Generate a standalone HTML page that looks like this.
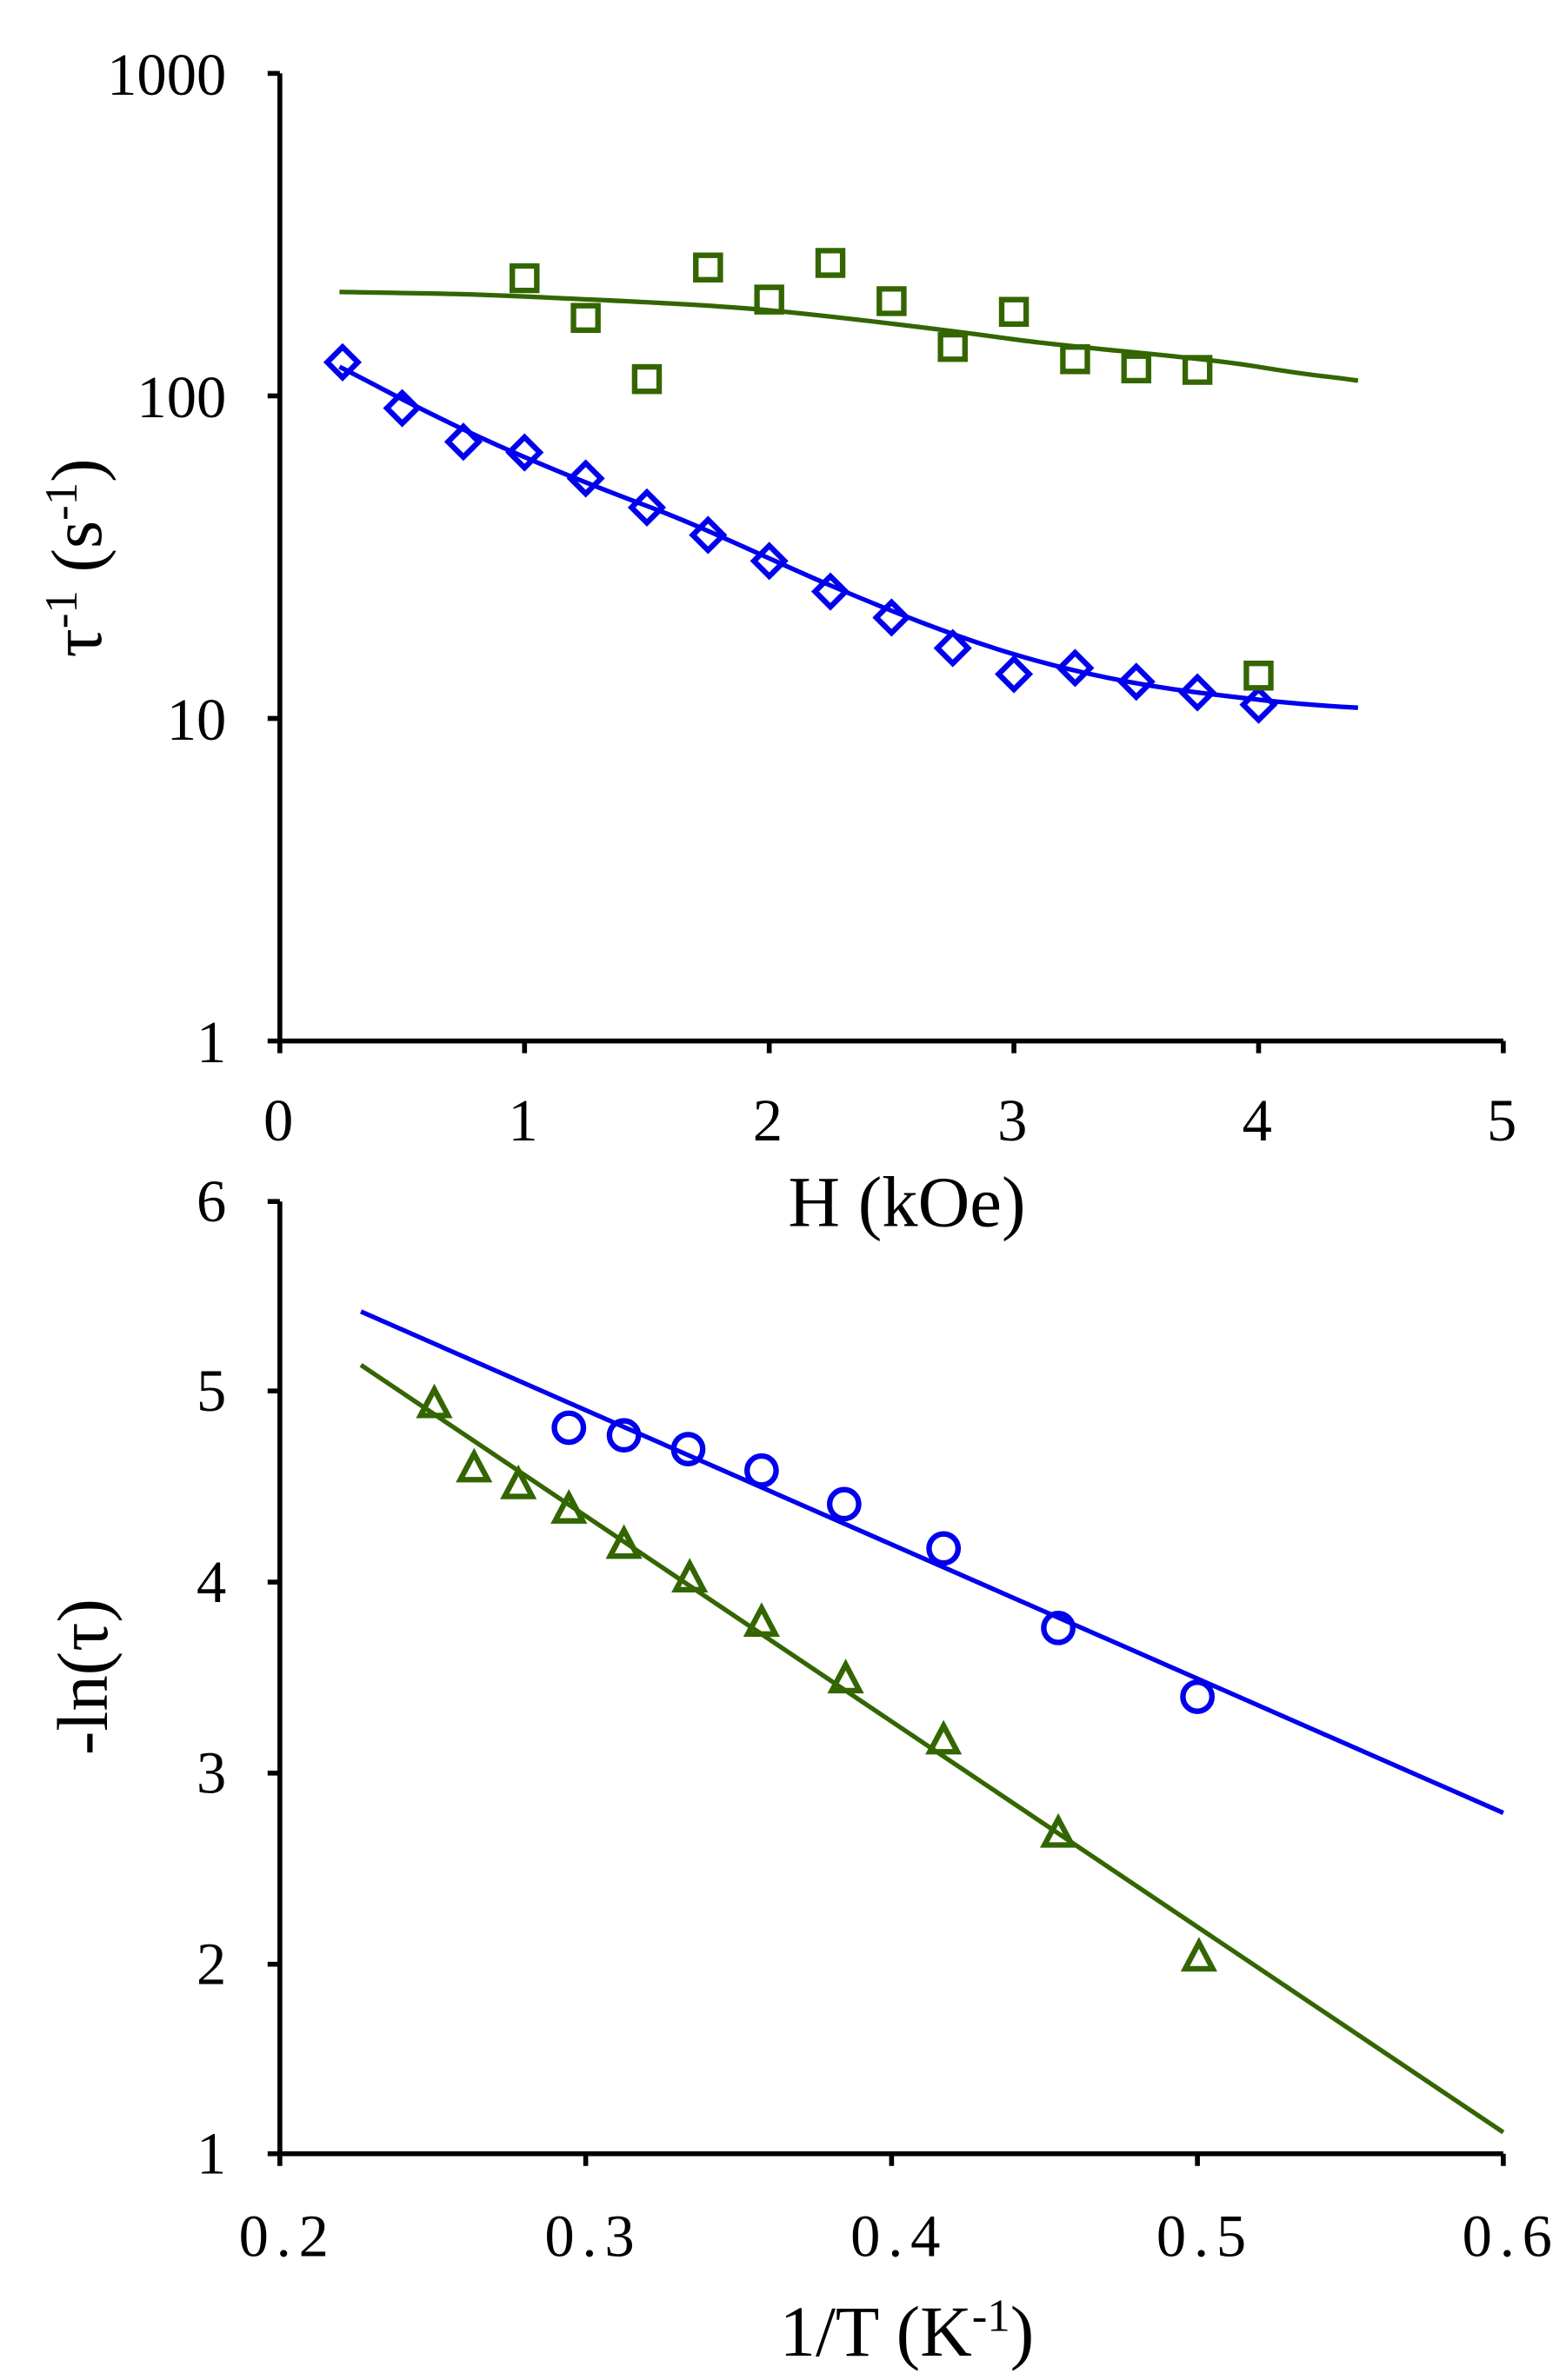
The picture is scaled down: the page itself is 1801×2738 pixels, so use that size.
<!DOCTYPE html>
<html><head><style>html,body{margin:0;padding:0;background:#fff}svg{display:block}</style></head><body>
<svg width="1801" height="2738" viewBox="0 0 1024 1557" preserveAspectRatio="none" xmlns="http://www.w3.org/2000/svg" font-family="Liberation Serif, serif" fill="#000">
<g stroke="#000" stroke-width="3.2" fill="none">
<path d="M183,48V681H983"/>
<path d="M175,48H183M175,259H183M175,470H183M175,681H183"/>
<path d="M183,681V689M343,681V689M503,681V689M663,681V689M823,681V689M983,681V689"/>
<path d="M183,786V1409H983"/>
<path d="M175,786H183M175,910H183M175,1035H183M175,1160H183M175,1285H183M175,1409H183"/>
<path d="M183,1409V1417M383,1409V1417M583,1409V1417M783,1409V1417M983,1409V1417"/>
</g>
<g font-size="39" text-anchor="end">
<text x="148" y="62">1000</text><text x="148" y="273">100</text><text x="148" y="484">10</text><text x="148" y="695">1</text>
<text x="148" y="799">6</text><text x="148" y="923">5</text><text x="148" y="1048">4</text><text x="148" y="1173">3</text><text x="148" y="1298">2</text><text x="148" y="1422">1</text>
</g>
<g font-size="39" text-anchor="middle">
<text x="182" y="746">0</text><text x="342" y="746">1</text><text x="502" y="746">2</text><text x="662" y="746">3</text><text x="822" y="746">4</text><text x="982" y="746">5</text>
<g letter-spacing="5"><text x="188" y="1476">0.2</text><text x="388" y="1476">0.3</text><text x="588" y="1476">0.4</text><text x="788" y="1476">0.5</text><text x="988" y="1476">0.6</text></g>
<text x="593" y="802" font-size="47">H (kOe)</text>
<text x="593" y="1541" font-size="47">1/T (K<tspan font-size="30" dy="-16">-1</tspan><tspan dy="16">)</tspan></text>
</g>
<text transform="translate(66,365) rotate(-90)" text-anchor="middle" font-size="47">τ<tspan font-size="30" dy="-16">-1</tspan><tspan dy="16"> (s</tspan><tspan font-size="30" dy="-16">-1</tspan><tspan dy="16">)</tspan></text>
<text transform="translate(70,1097) rotate(-90)" text-anchor="middle" font-size="47">-ln(τ)</text>
<g fill="none" stroke-width="3">
<path stroke="#0000ee" d="M222,240 C250,254 263,262 303,281 S383,316 423,331 S503,366 543,383 S623,416 663,428 S743,448 783,453 S850,461 888,463"/>
<path stroke="#336600" d="M222,191 C280,192 300,192 343,194 S460,199 503,203 S620,216 663,222 S780,233 823,240 S860,245 888,249"/>
<path stroke="#0000ee" d="M236,858L983,1186"/>
<path stroke="#336600" d="M236,893L983,1395"/>
<g stroke="#0000ee" stroke-width="3.6">
<path d="M224,227l10,10l-10,10l-10,-10z M263,257l10,10l-10,10l-10,-10z M303,279l10,10l-10,10l-10,-10z M343,286l10,10l-10,10l-10,-10z M383,303l10,10l-10,10l-10,-10z M423,322l10,10l-10,10l-10,-10z M463,340l10,10l-10,10l-10,-10z M503,357l10,10l-10,10l-10,-10z M543,377l10,10l-10,10l-10,-10z M583,394l10,10l-10,10l-10,-10z M623,414l10,10l-10,10l-10,-10z M663,431l10,10l-10,10l-10,-10z M703,427l10,10l-10,10l-10,-10z M743,436l10,10l-10,10l-10,-10z M783,443l10,10l-10,10l-10,-10z M823,451l10,10l-10,10l-10,-10z"/>
<circle cx="372" cy="934" r="9.5"/><circle cx="408" cy="939" r="9.5"/><circle cx="450" cy="948" r="9.5"/><circle cx="498" cy="962" r="9.5"/><circle cx="552" cy="984" r="9.5"/><circle cx="617" cy="1013" r="9.5"/><circle cx="692" cy="1065" r="9.5"/><circle cx="783" cy="1110" r="9.5"/>
</g>
<g stroke="#336600" stroke-width="3.6">
<path d="M335,174h16v16h-16z M375,200h16v16h-16z M415,240h16v16h-16z M455,167h16v16h-16z M495,188h16v16h-16z M535,164h16v16h-16z M575,189h16v16h-16z M615,219h16v16h-16z M655,196h16v16h-16z M695,227h16v16h-16z M735,233h16v16h-16z M775,234h16v16h-16z M815,434h16v16h-16z"/>
<path d="M284,909l9,17h-18z M310,951l9,17h-18z M339,962l9,17h-18z M372,978l9,17h-18z M408,1001l9,17h-18z M451,1023l9,17h-18z M498,1052l9,17h-18z M553,1089l9,17h-18z M617,1129l9,17h-18z M692,1190l9,17h-18z M784,1271l9,17h-18z"/>
</g>
</g>
</svg>
</body></html>
